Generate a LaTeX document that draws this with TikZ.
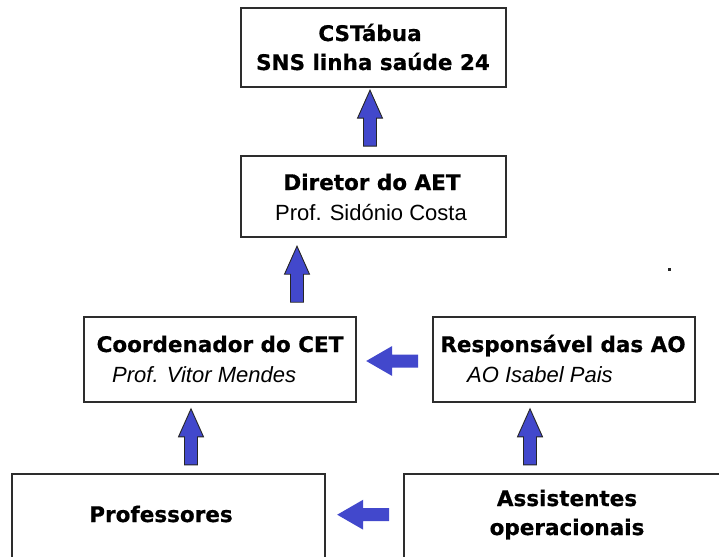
\documentclass[tikz,border=0pt]{standalone}
\usepackage{fontspec}
\setmainfont{Liberation Sans}
\newfontfamily\boldfam{DejaVu Sans}[BoldFeatures={FakeBold=0.6}]
\usetikzlibrary{calc}
\definecolor{arrowblue}{RGB}{66,72,204}
\definecolor{boxline}{RGB}{45,45,45}
\tikzset{
  box/.style={draw=boxline, line width=1.6pt, fill=white, inner sep=0pt},
  headtext/.style={anchor=base, inner sep=0pt, font=\boldfam\bfseries\fontsize{21.5}{26}\selectfont},
  subtext/.style={anchor=base west, inner sep=0pt, font=\fontsize{22}{26}\selectfont},
  uparr/.pic={\path[pic actions] (0,-6.5) -- (28,-6.5) -- (28,-12.5) -- (56,0) -- (28,12.5) -- (28,6.5) -- (0,6.5) -- cycle;},
  sidearr/.pic={\path[pic actions] (0,-6.5) -- (26,-6.5) -- (26,-15) -- (52,0) -- (26,15) -- (26,6.5) -- (0,6.5) -- cycle;},
  vstyle/.style={fill=arrowblue, draw=black!85, line width=0.9pt, line join=miter},
  hstyle/.style={fill=arrowblue, draw=none}
}
\begin{document}
\begin{tikzpicture}[x=1pt,y=-1pt]
\useasboundingbox (0,0) rectangle (719,556);
\clip (0,0) rectangle (719,556);
\fill[white] (0,0) rectangle (719,556);

% boxes
\node[box, minimum width=265pt, minimum height=79pt] (top) at (373.5,47.5) {};
\node[box, minimum width=265pt, minimum height=81pt] (dir) at (373.5,196.5) {};
\node[box, minimum width=272pt, minimum height=85pt] (coord) at (220,359.5) {};
\node[box, minimum width=262pt, minimum height=85pt] (resp) at (564,359.5) {};
\node[box, minimum width=313pt, minimum height=120pt] (prof) at (168.5,534) {};
\node[box, minimum width=340pt, minimum height=120pt] (asst) at (574,534) {};

% texts
\node[headtext] (t1) at (370,41) {CSTábua};
\node[headtext] (t2) at (373,70) {SNS linha saúde 24};
\node[headtext] (d1) at (372,190) {Diretor do AET};
\node[subtext] (d2) at (275,220) {Prof. Sidónio Costa};
\node[headtext] (c1) at (220,352) {Coordenador do CET};
\node[subtext, font=\itshape\fontsize{22}{26}\selectfont] (c2) at (112,382) {Prof. Vitor Mendes};
\node[headtext] (r1) at (563,352) {Responsável das AO};
\node[subtext, font=\itshape\fontsize{22}{26}\selectfont] (r2) at (467,382) {AO Isabel Pais};
\node[headtext] (p1) at (161,522) {Professores};
\node[headtext] (a1) at (567,506) {Assistentes};
\node[headtext] (a2) at (567,535) {operacionais};

% connector anchors
\coordinate (u1) at ($(dir.north)+(-3.5,-9)$);
\coordinate (u2) at ($(coord.north)+(77,-14)$);
\coordinate (u3) at ($(coord.south)+(-29,62)$);
\coordinate (u4) at ($(resp.south)+(-34,62)$);
\coordinate (h1) at ($(resp.west)+(-14,1.5)$);
\coordinate (h2) at ($(asst.north west)+(-14,41.5)$);

% block arrows
\pic[rotate=90, vstyle] at (u1) {uparr};
\pic[rotate=90, vstyle] at (u2) {uparr};
\pic[rotate=90, vstyle] at (u3) {uparr};
\pic[rotate=90, vstyle] at (u4) {uparr};
\pic[rotate=180, hstyle] at (h1) {sidearr};
\pic[rotate=180, hstyle] at (h2) {sidearr};

% stray dot
\fill[black!85] (667.5,267.5) rectangle (670.5,270.5);
\end{tikzpicture}
\end{document}
